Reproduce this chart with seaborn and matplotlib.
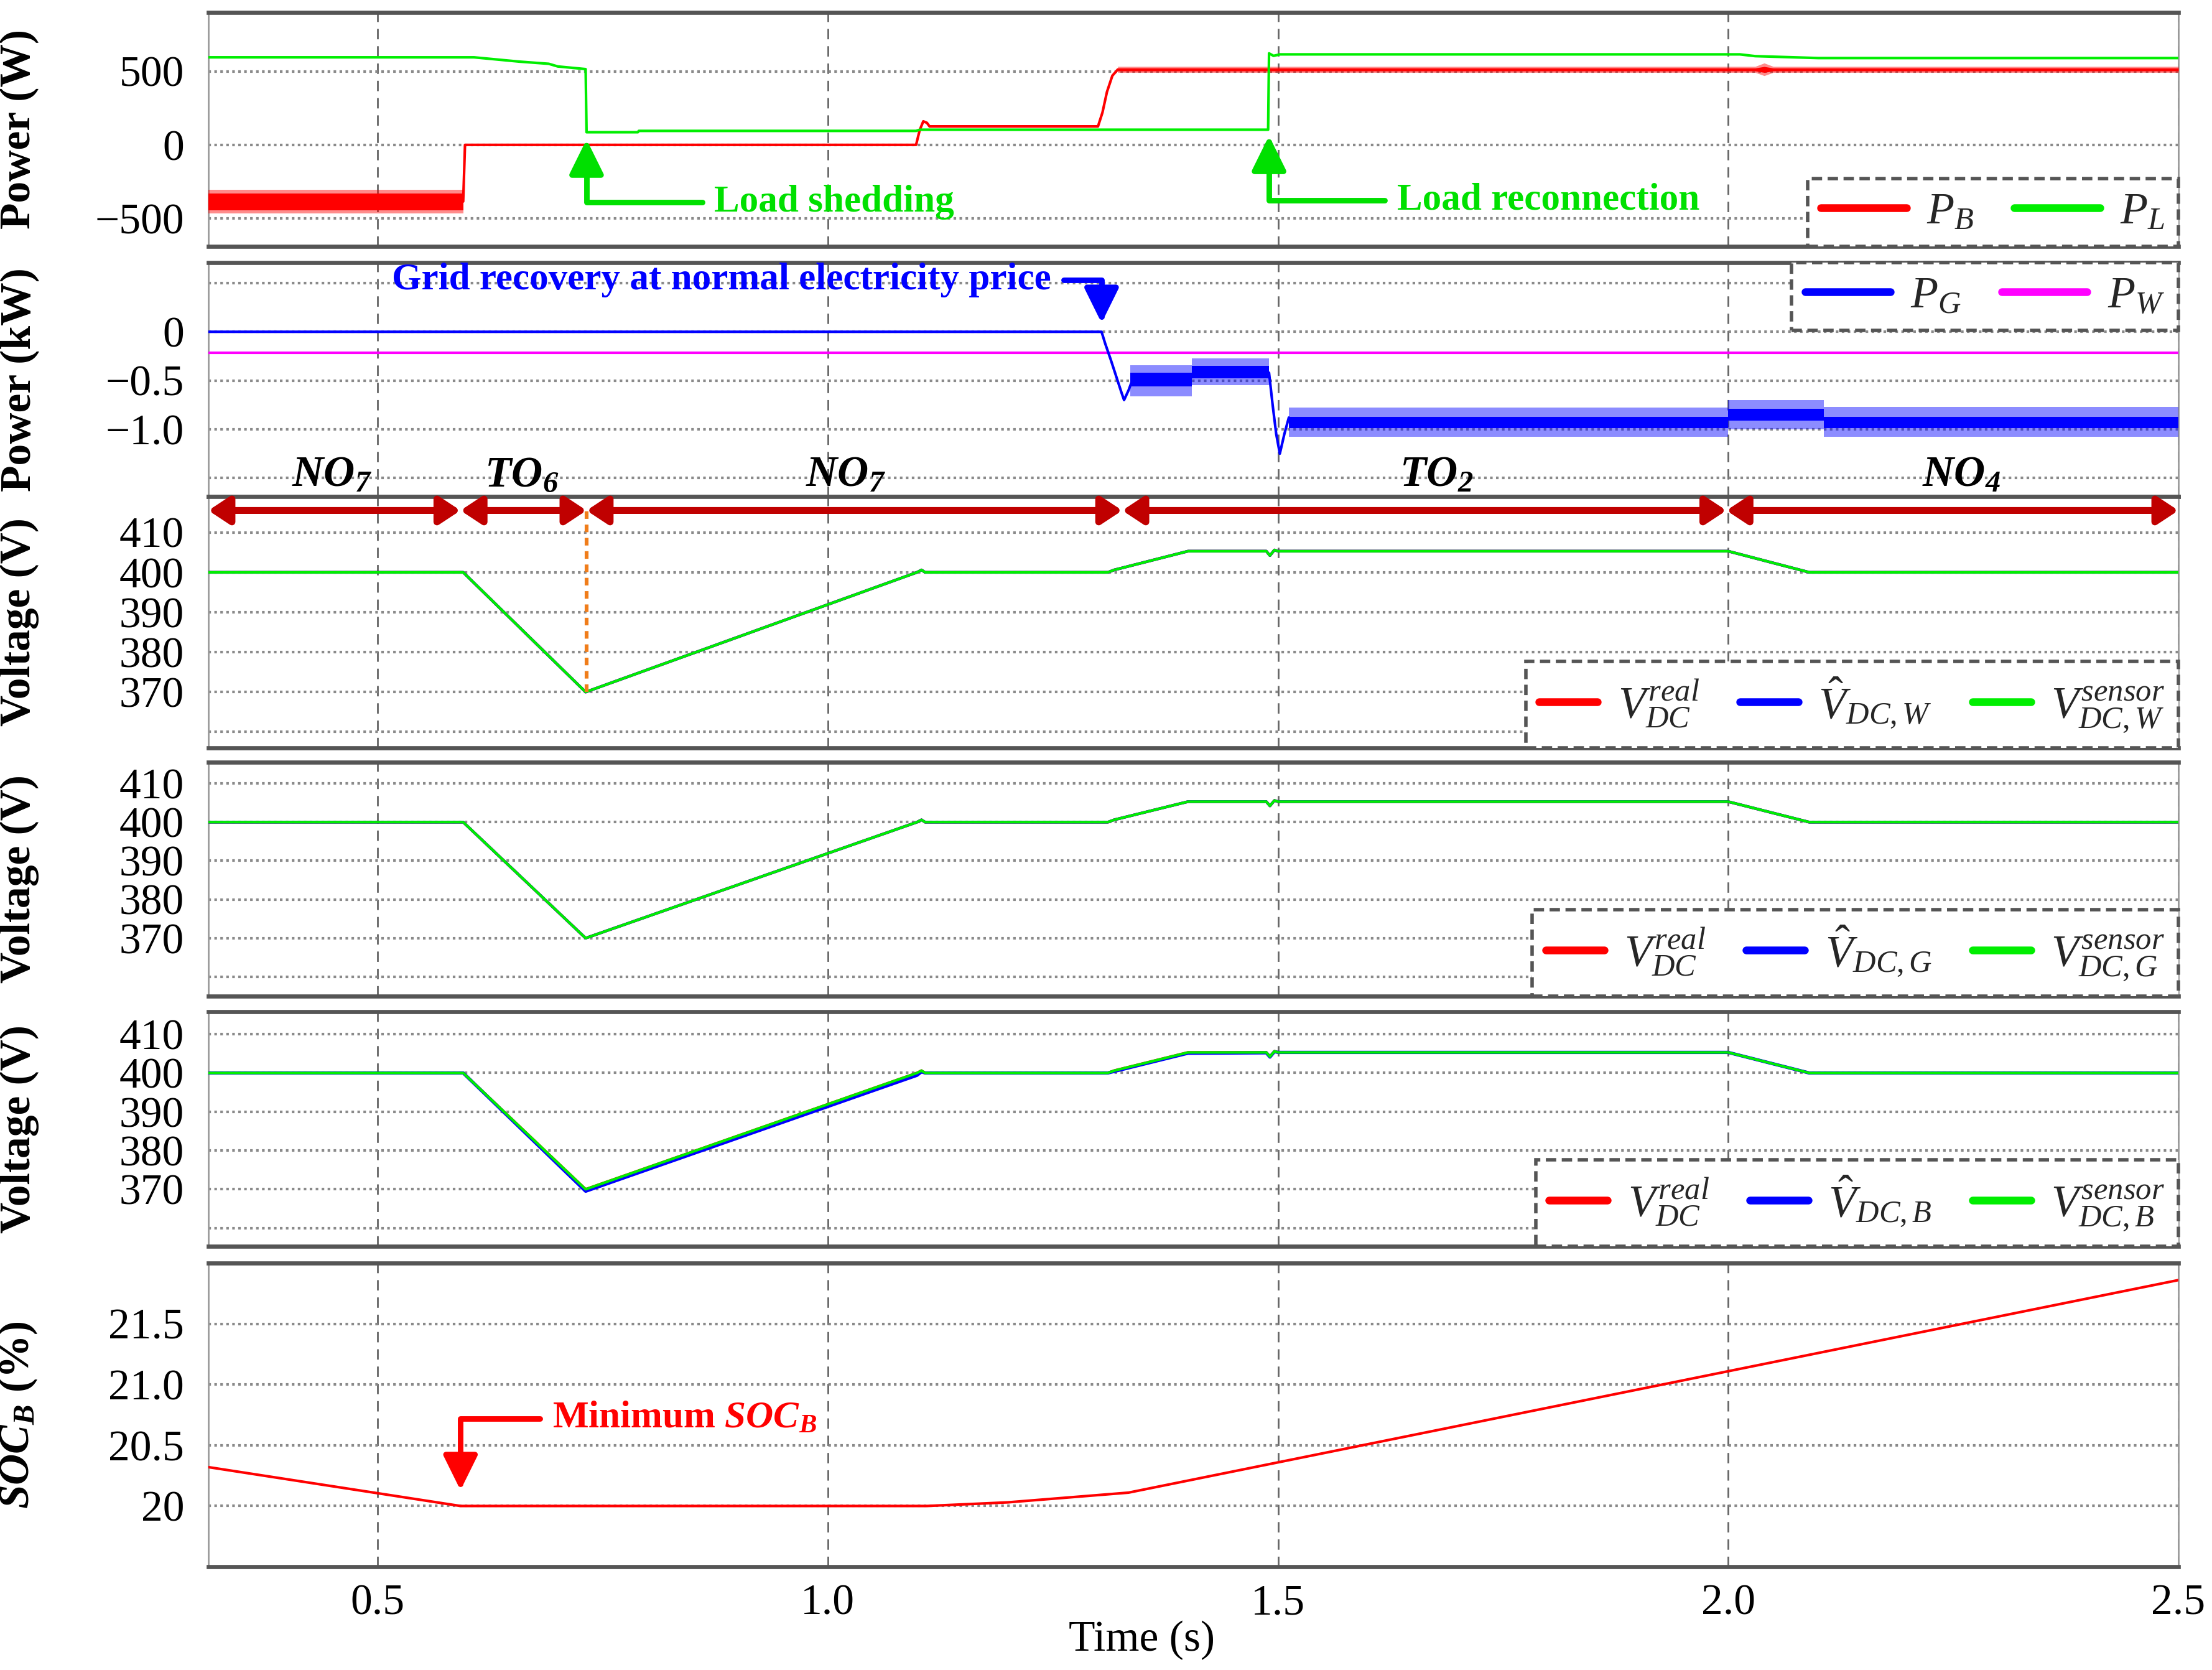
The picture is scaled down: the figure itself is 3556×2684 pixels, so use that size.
import numpy as np
import matplotlib
matplotlib.use('Agg')
import matplotlib.pyplot as plt
from matplotlib.lines import Line2D
import seaborn as sns

sns.set_theme(style='white')
plt.rcParams['font.family'] = ['Liberation Serif', 'DejaVu Serif']
plt.rcParams['mathtext.fontset'] = 'custom'
plt.rcParams['mathtext.rm'] = 'Liberation Serif'
plt.rcParams['mathtext.it'] = 'Liberation Serif:italic'
plt.rcParams['mathtext.bf'] = 'Liberation Serif:bold'
plt.rcParams['mathtext.bfit'] = 'Liberation Serif:italic:bold'
plt.rcParams['axes.unicode_minus'] = True

# ---------------------------------------------------------------- data
T_MIN, T_MAX = 0.312, 2.5
X_TICKS = [0.5, 1.0, 1.5, 2.0, 2.5]

# panel 1 : power (W)
pl_t = [0.312, 0.607, 0.657, 0.690, 0.700, 0.731, 0.732, 0.789, 0.790, 1.098,
        1.102, 1.489, 1.490, 1.495, 1.502, 2.013, 2.030, 2.100, 2.500]
pl_v = [595, 595, 566, 551, 533, 515, 86, 86, 95, 95,
        103, 103, 622, 605, 615, 615, 603, 590, 590]

pb_t = [0.595, 0.597, 1.098, 1.102, 1.106, 1.110, 1.113, 1.300, 1.305, 1.310, 1.316, 1.322]
pb_v = [-385, 0, 0, 100, 160, 150, 125, 125, 220, 360, 470, 512]
# noisy parts of P_B : envelope (dense core and spikes)
pb_band1_t = [0.312, 0.595]
pb_band1_core = ([-445, -445], [-332, -332])
pb_band1_out = ([-465, -465], [-306, -306])
pb_band2_t = [1.113, 1.300]
pb_band2_core = ([116, 116], [134, 134])
pb_band3_t = [1.322, 2.030, 2.040, 2.050, 2.500]
pb_band3_core = ([502, 502, 492, 502, 502], [522, 522, 532, 522, 522])
pb_band3_out = ([492, 492, 470, 492, 492], [533, 533, 556, 533, 533])

# panel 2 : power (kW)
pw_t = [0.312, 2.500]
pw_v = [-0.215, -0.215]
pg_t = [0.312, 1.304, 1.308, 1.314, 1.320, 1.326, 1.329, 1.334, 1.338,
        1.490, 1.494, 1.498, 1.502, 1.507, 1.512]
pg_v = [0.0, 0.0, -0.12, -0.28, -0.45, -0.62, -0.70, -0.60, -0.50,
        -0.42, -0.75, -1.05, -1.25, -1.05, -0.88]
pg_band1_t = [1.336, 1.404, 1.404, 1.490]
pg_band1_core = ([-0.56, -0.56, -0.48, -0.48], [-0.42, -0.42, -0.35, -0.35])
pg_band1_out = ([-0.66, -0.66, -0.55, -0.55], [-0.34, -0.34, -0.27, -0.27])
pg_band2_t = [1.512, 2.000, 2.000, 2.106, 2.106, 2.500]
pg_band2_core = ([-0.99, -0.99, -0.91, -0.91, -0.99, -0.99],
                 [-0.87, -0.87, -0.79, -0.79, -0.87, -0.87])
pg_band2_out = ([-1.08, -1.08, -1.00, -1.00, -1.08, -1.08],
                [-0.78, -0.78, -0.70, -0.70, -0.77, -0.77])

# panels 3-5 : DC bus voltage (V)
v_t = [0.312, 0.595, 0.731, 1.099, 1.104, 1.108, 1.311, 1.318, 1.325, 1.400,
       1.487, 1.491, 1.496, 1.500, 2.000, 2.090, 2.500]
v_real = [400, 400, 370, 400, 400.6, 400, 400, 400.6, 401, 405.3,
          405.3, 404.2, 405.6, 405.3, 405.3, 400, 400]
v_sensor = v_real
v_hat = v_real
v_hat_b = [400, 400, 369.5, 399.4, 400.3, 400, 400, 400.4, 400.8, 405.1,
           405.2, 404.1, 405.5, 405.3, 405.3, 400, 400]

# panel 6 : battery SOC (%)
soc_t = [0.312, 0.592, 1.110, 1.200, 1.334, 2.500]
soc_v = [20.32, 20.00, 20.00, 20.03, 20.11, 21.86]

# operating modes
seg_t = [0.312, 0.592, 0.732, 1.327, 1.998, 2.500]
seg_name = [r'$\mathbfit{NO}_{\mathbfit{7}}$', r'$\mathbfit{TO}_{\mathbfit{6}}$',
            r'$\mathbfit{NO}_{\mathbfit{7}}$', r'$\mathbfit{TO}_{\mathbfit{2}}$',
            r'$\mathbfit{NO}_{\mathbfit{4}}$']
seg_label_t = [0.449, 0.660, 1.020, 1.676, 2.259]
SEG_ROW_V = 415.5

RED, GREEN, BLUE, MAGENTA = '#FF0000', '#00EE00', '#0000FF', '#FF00FF'
DARKRED, ORANGE = '#C00000', '#F07D1A'
TICK_FS, LABEL_FS, LEG_FS, NOTE_FS = 25, 25, 26, 22

# ---------------------------------------------------------------- figure
W, H = 3556, 2684
fig = plt.figure(figsize=(W / 200, H / 200), dpi=200)
LEFT, RIGHT = 335, 3502
panels_px = [(20, 396), (422, 798), (798, 1202), (1225, 1601), (1626, 2003), (2030, 2518)]
axes = []
for top, bot in panels_px:
    axes.append(fig.add_axes([LEFT / W, 1 - bot / H, (RIGHT - LEFT) / W, (bot - top) / H]))
ax1, ax2, ax3, ax4, ax5, ax6 = axes


def style_axis(ax, ylim, yticks, ylabels, ylabel):
    ax.set_xlim(T_MIN, T_MAX)
    ax.set_ylim(*ylim)
    ax.set_xticks(X_TICKS)
    ax.set_yticks(yticks)
    ax.set_yticklabels(ylabels)
    ax.tick_params(axis='both', length=0, labelsize=TICK_FS, pad=14, labelcolor='black')
    ax.tick_params(axis='x', labelbottom=False, pad=10)
    ax.xaxis.grid(True, ls=(0, (6, 4)), color='#666666', lw=1.0)
    ax.yaxis.grid(True, ls=(0, (1, 1.3)), color='#8a8a8a', lw=1.5)
    ax.set_axisbelow(True)
    for side in ['top', 'bottom']:
        ax.spines[side].set_color('#555555')
        ax.spines[side].set_linewidth(2.4)
    for side in ['left', 'right']:
        ax.spines[side].set_color('#9a9a9a')
        ax.spines[side].set_linewidth(1.0)
    ax.set_ylabel(ylabel, fontsize=LABEL_FS, fontweight='bold', color='black')
    ax.yaxis.set_label_coords(-0.086, 0.5)


def line(ax, t, v, color, lw=1.5, z=3):
    sns.lineplot(x=t, y=v, ax=ax, color=color, lw=lw, estimator=None, sort=False,
                 zorder=z, legend=False)


def band(ax, t, env, color, alpha=1.0, z=3):
    ax.fill_between(t, env[0], env[1], color=color, alpha=alpha, lw=0, zorder=z)


def dashed_legend(ax, colors, labels, loc, anchor, ncol, handlelength=1.6):
    handles = [Line2D([], [], color=c, lw=4.5) for c in colors]
    leg = ax.legend(handles, labels, loc=loc, bbox_to_anchor=anchor, ncol=ncol,
                    fontsize=LEG_FS, frameon=True, fancybox=False, borderaxespad=0,
                    handlelength=handlelength, columnspacing=0.9, handletextpad=0.45,
                    borderpad=0.3)
    fr = leg.get_frame()
    fr.set_edgecolor('#555555')
    fr.set_linestyle((0, (3, 1.6)))
    fr.set_linewidth(2.0)
    fr.set_facecolor('white')
    fr.set_alpha(1)
    leg.set_zorder(10)


def note(ax, text, tip, text_xy, color, ha, relpos):
    ax.annotate(text, xy=tip, xytext=text_xy, color=color, fontsize=NOTE_FS,
                fontweight='bold', ha=ha, va='center', zorder=12,
                arrowprops=dict(arrowstyle='-|>,head_length=0.85,head_width=0.42',
                                mutation_scale=20, color=color, lw=3.2,
                                connectionstyle='angle,angleA=0,angleB=90,rad=0',
                                relpos=relpos, shrinkA=5, shrinkB=0))


# panel 1
style_axis(ax1, (-690, 900), [-500, 0, 500], ['\u2212500', '0', '500'], 'Power (W)')
band(ax1, pb_band1_t, pb_band1_out, RED, 0.45)
band(ax1, pb_band1_t, pb_band1_core, RED)
band(ax1, pb_band2_t, pb_band2_core, RED)
band(ax1, pb_band3_t, pb_band3_out, RED, 0.45)
band(ax1, pb_band3_t, pb_band3_core, RED)
line(ax1, pb_t, pb_v, RED)
line(ax1, pl_t, pl_v, GREEN, z=4)
dashed_legend(ax1, [RED, GREEN], [r'$P_B$', r'$P_L$'], 'lower right', (1.0, 0.0), 2, 1.9)
note(ax1, 'Load shedding', (pl_t[6], 37), (0.874, -390), '#00E000', 'left', (0, 0.5))
note(ax1, 'Load reconnection', (pl_t[12], 62), (1.632, -375), '#00E000', 'left', (0, 0.5))

# panel 2
style_axis(ax2, (-1.69, 0.71), [-1.5, -1.0, -0.5, 0, 0.5],
           ['', '\u22121.0', '\u22120.5', '0', ''], 'Power (kW)')
line(ax2, pw_t, pw_v, MAGENTA)
band(ax2, pg_band1_t, pg_band1_out, BLUE, 0.45)
band(ax2, pg_band1_t, pg_band1_core, BLUE)
band(ax2, pg_band2_t, pg_band2_out, BLUE, 0.45)
band(ax2, pg_band2_t, pg_band2_core, BLUE)
line(ax2, pg_t, pg_v, BLUE)
dashed_legend(ax2, [BLUE, MAGENTA], [r'$P_G$', r'$P_W$'], 'upper right', (1.0, 1.0), 2, 1.9)
note(ax2, 'Grid recovery at normal electricity price', (pg_t[1], 0.09), (1.248, 0.53),
     BLUE, 'right', (1, 0.5))
for name, xt in zip(seg_name, seg_label_t):
    ax2.text(xt, 0.004, name, transform=ax2.get_xaxis_transform(), ha='center',
             va='bottom', fontsize=TICK_FS, color='black', zorder=11)

# panels 3-5
v_ticks = [360, 370, 380, 390, 400, 410]
v_labels = ['', '370', '380', '390', '400', '410']
for ax, ylim, sub, hat in [(ax3, (356, 419), 'W', v_hat), (ax4, (355, 415.5), 'G', v_hat),
                           (ax5, (355.3, 415.8), 'B', v_hat_b)]:
    style_axis(ax, ylim, v_ticks, v_labels, 'Voltage (V)')
    line(ax, v_t, v_real, RED, lw=1.6)
    line(ax, v_t, hat, BLUE, lw=1.9 if sub == 'B' else 1.6)
    line(ax, v_t, v_sensor, GREEN, lw=1.5, z=4)
    dashed_legend(ax, [RED, BLUE, GREEN],
                  [r'$V_{DC}^{real}$', r'$\hat{V}_{DC,%s}$' % sub, r'$V_{DC,%s}^{sensor}$' % sub],
                  'lower right', (1.0, 0.0), 3, 1.3)

for a, b in zip(seg_t[:-1], seg_t[1:]):
    ax3.annotate('', xy=(b, SEG_ROW_V), xytext=(a, SEG_ROW_V), annotation_clip=False,
                 arrowprops=dict(arrowstyle='<|-|>,head_length=0.5,head_width=0.33',
                                 mutation_scale=20, color=DARKRED, lw=4.0,
                                 shrinkA=0, shrinkB=0), zorder=8)
ax3.vlines(seg_t[2], min(v_real), SEG_ROW_V, colors=ORANGE, linestyles=(0, (2, 1.5)),
           lw=2.2, zorder=5)

# panel 6
style_axis(ax6, (19.5, 22.0), [20, 20.5, 21.0, 21.5], ['20', '20.5', '21.0', '21.5'],
           r'$\mathbfit{SOC}_{\mathbfit{B}}$ (%)')
line(ax6, soc_t, soc_v, RED, lw=1.5)
note(ax6, r'Minimum $\mathbfit{SOC}_{\mathbfit{B}}$', (soc_t[1], 20.13), (0.694, 20.72),
     RED, 'left', (0, 0.5))
ax6.tick_params(axis='x', labelbottom=True, pad=10)
ax6.set_xticklabels(['0.5', '1.0', '1.5', '2.0', '2.5'])
ax6.set_xlabel('')
fig.text(1836 / W, 1 - 2636 / H, 'Time (s)', ha='center', va='center',
         fontsize=LABEL_FS, color='black')

fig.savefig('out.png', dpi=200)
